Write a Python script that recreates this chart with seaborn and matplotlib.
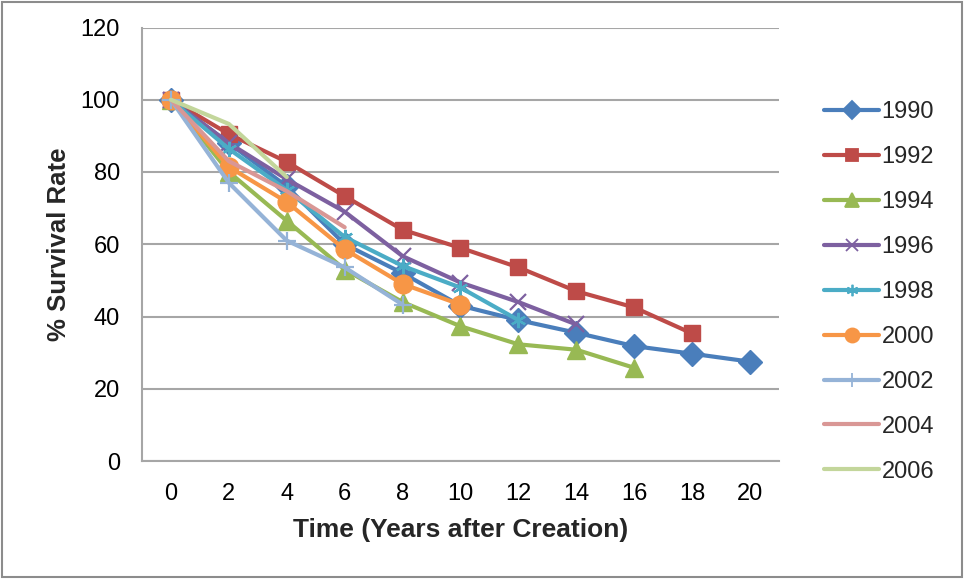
import numpy as np
import pandas as pd
import matplotlib
matplotlib.use("Agg")
import matplotlib.pyplot as plt
import seaborn as sns
from matplotlib.lines import Line2D
from matplotlib.patches import Rectangle

# ---- data ----
times = [0, 2, 4, 6, 8, 10, 12, 14, 16, 18, 20]
cohorts = ["1990", "1992", "1994", "1996", "1998", "2000", "2002", "2004", "2006"]
s1990 = [100, 88, 76, 60, 52, 43, 39, 35.5, 31.8, 29.7, 27.5]
s1992 = [100, 90.5, 82.8, 73.3, 64, 59, 53.6, 47, 42.5, 35.3]
s1994 = [100, 80, 66.5, 53, 44, 37.3, 32.3, 30.8, 25.8]
s1996 = [100, 88, 78, 69, 56.7, 49.4, 44, 37.8]
s1998 = [100, 86.4, 75, 62, 54, 48, 39]
s2000 = [100, 81.4, 71.7, 58.6, 49, 43.3]
s2002 = [100, 77, 61, 53.6, 43.3]
s2004 = [100, 83, 74.7, 64.7]
s2006 = [100, 93.3, 78.6]
series = [s1990, s1992, s1994, s1996, s1998, s2000, s2002, s2004, s2006]

colors = ["#4A7EBB", "#BE4B48", "#98B954", "#7D60A0", "#4BACC6",
          "#F79646", "#95B3D7", "#D99795", "#C3D69B"]
markers = ["D", "s", "^", "x", (6, 2, 0), "o", "+", "", ""]
msizes = [12.5, 11.5, 13, 11, 11, 13.5, 13, 0, 0]

rows = []
for name, vals in zip(cohorts, series):
    for t, v in zip(times, vals):
        rows.append({"Time": t, "Survival": v, "Cohort": name})
df = pd.DataFrame(rows)

sns.set_theme(style="white")
plt.rcParams["font.family"] = ["Liberation Sans", "DejaVu Sans"]

fig = plt.figure(figsize=(9.65, 5.79), dpi=100)
ax = fig.add_axes([142 / 965, 1 - 461 / 579, (779 - 142) / 965, (461 - 27.5) / 579])

grid_c = "#A6A6A6"
for i, name in enumerate(cohorts):
    sub = df[df["Cohort"] == name]
    kw = dict(linewidth=3.0, color=colors[i])
    if markers[i] != "":
        line_art = markers[i] in ("x", "+") or isinstance(markers[i], tuple)
        kw.update(marker=markers[i], markersize=msizes[i],
                  markerfacecolor=colors[i], markeredgecolor=colors[i],
                  markeredgewidth=1.6 if line_art else 1.0)
    sns.lineplot(data=sub, x="Time", y="Survival", ax=ax, legend=False, **kw)

ax.set_xlim(-1, 21)
ax.set_ylim(0, 120)
ax.set_yticks(np.arange(0, 121, 20))
ax.set_xticks(times)
ax.set_xticks(np.arange(-1, 22, 2), minor=True)
ax.tick_params(axis="x", which="major", length=0, pad=16, labelsize=17, labelcolor="black")
ax.tick_params(axis="x", which="minor", length=6, width=1.5, color=grid_c, direction="out")
ax.tick_params(axis="y", which="major", length=7, width=1.5, color=grid_c, direction="out",
               pad=9, labelsize=17, labelcolor="black")
ax.yaxis.grid(True, color=grid_c, linewidth=1.5)
ax.set_axisbelow(True)
for s in ["top", "right"]:
    ax.spines[s].set_visible(False)
for s in ["left", "bottom"]:
    ax.spines[s].set_color(grid_c)
    ax.spines[s].set_linewidth(1.5)

ax.set_xlabel("Time (Years after Creation)", fontsize=19, fontweight="bold", labelpad=9)
ax.set_ylabel("% Survival Rate", fontsize=18.5, fontweight="bold", labelpad=7)

handles = []
for i, name in enumerate(cohorts):
    handles.append(Line2D([0], [0], color=colors[i], linewidth=3.0,
                          marker=markers[i] if markers[i] != "" else None,
                          markersize=msizes[i] * 0.75,
                          markerfacecolor=colors[i], markeredgecolor=colors[i],
                          markeredgewidth=1.3))
leg = fig.legend(handles, cohorts, loc="upper left",
                 bbox_to_anchor=(815 / 965, 1 - 92 / 579),
                 frameon=False, fontsize=17, handlelength=2.3, handletextpad=0.12,
                 labelspacing=0.97, borderaxespad=0)

fig.add_artist(Rectangle((0.002, 0.003), 0.995, 0.994, transform=fig.transFigure,
                         fill=False, edgecolor="#8C8C8C", linewidth=1.5))

fig.savefig("out.png", dpi=100)
